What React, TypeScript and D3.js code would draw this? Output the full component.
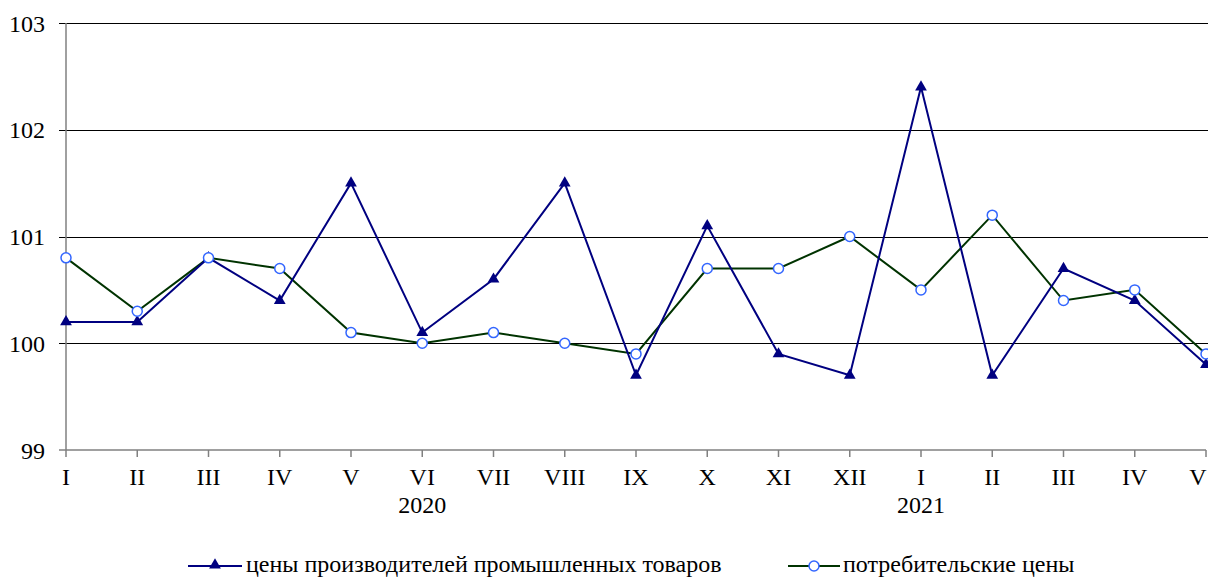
import React from "react";
import * as d3 from "d3";

const months = ["I","II","III","IV","V","VI","VII","VIII","IX","X","XI","XII","I","II","III","IV","V"];
const years = [{ label: "2020", index: 5 }, { label: "2021", index: 12 }];
const producer = [100.2,100.2,100.8,100.4,101.5,100.1,100.6,101.5,99.7,101.1,99.9,99.7,102.4,99.7,100.7,100.4,99.8];
const consumer = [100.8,100.3,100.8,100.7,100.1,100.0,100.1,100.0,99.9,100.7,100.7,101.0,100.5,101.2,100.4,100.5,99.9];
const yTicks = [99,100,101,102,103];
const seriesNames = ["цены производителей промышленных товаров", "потребительские цены"];

const W = 1208, H = 578;
const left = 66, right = 1206, top = 23, bottom = 450;
const textStyle = { fontFamily: "Liberation Serif" };

export default function App() {
  const x = d3.scaleLinear().domain([0, months.length - 1]).range([left, right]);
  const y = d3.scaleLinear().domain([99, 103]).range([bottom, top]);
  const line = d3.line<number>().x((_, i) => x(i)).y(d => y(d));
  const tri = d3.symbol().type(d3.symbolTriangle).size(60)();

  return (
    <svg width={W} height={H} style={{ position: "absolute", left: 0, top: 0, background: "#fff" }}>
      {yTicks.map(t => (
        <g key={t}>
          {t !== 99 && <line x1={left - 7} x2={W} y1={Math.round(y(t)) + 0.5} y2={Math.round(y(t)) + 0.5} stroke="#000" strokeWidth={1} />}
          <text x={45} y={y(t) + 8.5} textAnchor="end" style={textStyle} fontSize={24} fill="#000">{t}</text>
        </g>
      ))}
      <line x1={left} x2={left} y1={top} y2={bottom} stroke="#808080" strokeWidth={1.5} />
      <line x1={left - 7} x2={left} y1={bottom} y2={bottom} stroke="#808080" strokeWidth={1.5} />
      <line x1={left} x2={right} y1={bottom} y2={bottom} stroke="#808080" strokeWidth={1.5} />
      {months.map((m, i) => (
        <g key={i}>
          <line x1={x(i)} x2={x(i)} y1={bottom} y2={bottom + 7} stroke="#808080" strokeWidth={1.5} />
          <text x={i === months.length - 1 ? x(i) - 8 : x(i)} y={485} textAnchor="middle" style={textStyle} fontSize={24} fill="#000">{m}</text>
        </g>
      ))}
      {years.map(yr => (
        <text key={yr.label} x={x(yr.index)} y={513} textAnchor="middle" style={textStyle} fontSize={24} fill="#000">{yr.label}</text>
      ))}
      <path d={line(consumer) || ""} fill="none" stroke="#003300" strokeWidth={2} />
      <path d={line(producer) || ""} fill="none" stroke="#000080" strokeWidth={2} />
      {producer.map((v, i) => (
        <path key={"p" + i} d={tri || ""} transform={`translate(${x(i)},${y(v)})`} fill="#000080" />
      ))}
      {consumer.map((v, i) => (
        <circle key={"c" + i} cx={x(i)} cy={y(v)} r={5} fill="#fff" stroke="#3366FF" strokeWidth={1.5} />
      ))}
      <g>
        <line x1={188} x2={242} y1={566} y2={566} stroke="#000080" strokeWidth={2} />
        <path d={tri || ""} transform={`translate(215,565)`} fill="#000080" />
        <text x={246} y={572} style={textStyle} fontSize={24} fill="#000">{seriesNames[0]}</text>
        <line x1={788} x2={840} y1={566} y2={566} stroke="#003300" strokeWidth={2} />
        <circle cx={814} cy={566} r={5} fill="#fff" stroke="#3366FF" strokeWidth={1.5} />
        <text x={843} y={572} style={textStyle} fontSize={24} fill="#000">{seriesNames[1]}</text>
      </g>
    </svg>
  );
}
